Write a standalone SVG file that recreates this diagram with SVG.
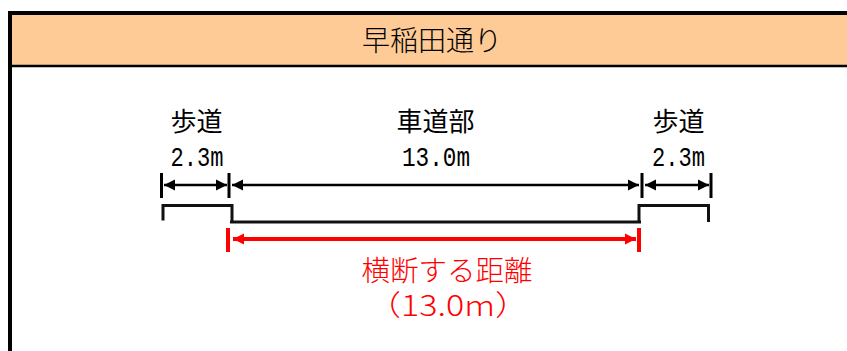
<svg xmlns="http://www.w3.org/2000/svg" width="847" height="351" viewBox="0 0 847 351">
<style>
text{font-family:"Noto Sans CJK JP","Noto Sans CJK SC",sans-serif;text-anchor:middle}
.k{font-size:26px;fill:#000}
.m{font-size:28px;font-family:"Liberation Mono","Noto Sans CJK JP",monospace;fill:#000}
.t{font-size:28px;fill:#000;font-weight:300}
.r{font-size:28.500px;fill:#f00;font-weight:300}
.b{stroke:#000;stroke-width:2.5;fill:none}
.tick{stroke:#000;stroke-width:3;fill:none}
.road{stroke:#111;stroke-width:3;fill:none}
.rl{stroke:#f00;stroke-width:4;fill:none}
</style>
<defs>
<marker id="a" markerUnits="userSpaceOnUse" markerWidth="12" markerHeight="12" refX="11" refY="6" orient="auto-start-reverse"><path d="M0 0.5L11 6L0 11.5Z" fill="#000"/></marker>
<marker id="ar" markerUnits="userSpaceOnUse" markerWidth="12" markerHeight="12" refX="11" refY="6" orient="auto-start-reverse"><path d="M0 0.5L11 6L0 11.5Z" fill="#f00"/></marker>
</defs>
<rect width="847" height="351" fill="#fff"/>
<g id="header">
<rect x="10" y="13" width="837" height="53" fill="#fecb96"/>
<path d="M10 351V13H847" fill="none" stroke="#000" stroke-width="4"/>
<path d="M10 66H847" fill="none" stroke="#000" stroke-width="2.5"/>
<text class="t" x="432" y="50.500">早稲田通り</text>
</g>
<g id="sidewalk-left">
<text class="k" x="196.500" y="131">歩道</text>
<text class="m" x="197" y="165.500" textLength="53" lengthAdjust="spacingAndGlyphs">2.3m</text>
</g>
<g id="roadway">
<text class="k" x="435.500" y="131">車道部</text>
<text class="m" x="436" y="165.500" textLength="68" lengthAdjust="spacingAndGlyphs">13.0m</text>
</g>
<g id="sidewalk-right">
<text class="k" x="678.500" y="131">歩道</text>
<text class="m" x="678.500" y="165.500" textLength="53" lengthAdjust="spacingAndGlyphs">2.3m</text>
</g>
<g id="crossing-label">
<text class="r" x="447" y="281">横断する距離</text>
<text class="r" x="448" y="316" textLength="162" lengthAdjust="spacingAndGlyphs">（13.0m）</text>
</g>
<g id="connectors">
<path class="tick" d="M161.500 173V198M229 173V198M642 173V198"/>
<path class="tick" d="M711 173V198" stroke-width="2.500"/>
<path class="b" d="M164 185H227" marker-start="url(#a)" marker-end="url(#a)"/>
<path class="b" d="M232 185H639" marker-start="url(#a)" marker-end="url(#a)"/>
<path class="b" d="M645 185H709" marker-start="url(#a)" marker-end="url(#a)"/>
<path class="road" d="M163 220.500V205.500H232V222"/>
<path class="road" d="M230 222H641"/>
<path class="road" d="M639 222V205.500H708.500V222"/>
<path class="rl" d="M228 228V252M639 228V252"/>
<path class="rl" d="M233 239H636" marker-start="url(#ar)" marker-end="url(#ar)"/>
</g>
</svg>
